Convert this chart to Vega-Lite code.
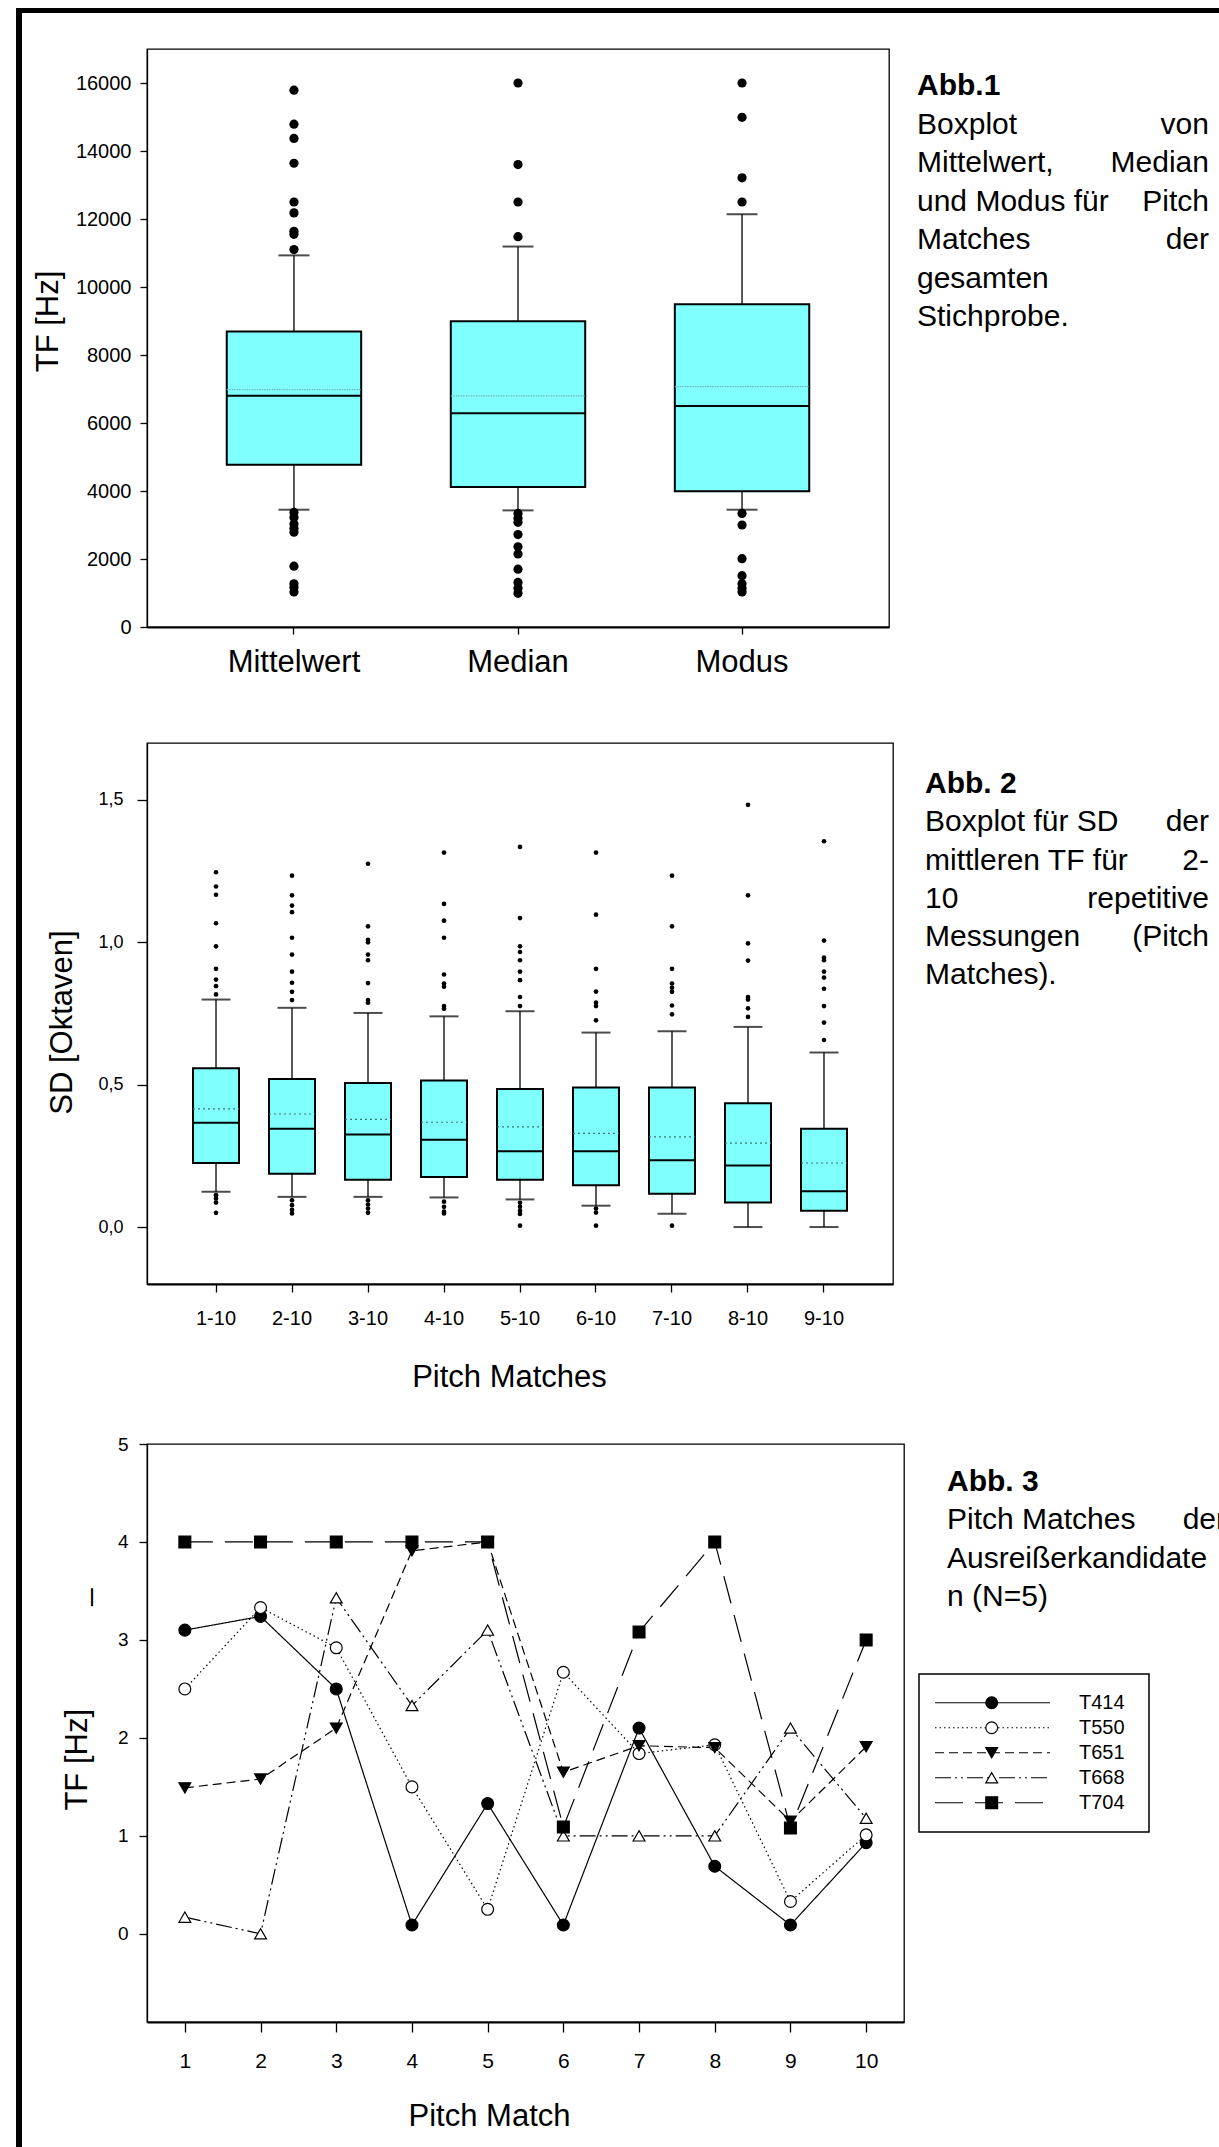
{
"$schema":"https://vega.github.io/schema/vega-lite/v6.json",
"padding":{"left":16,"top":7,"right":0,"bottom":0},
"autosize":{"type":"pad"},
"background":"white",
"config":{"font":"Liberation Sans","view":{"stroke":null},
  "axis":{"domainColor":"black","tickColor":"black","labelColor":"black","titleColor":"black","grid":false,"titleFontWeight":"normal","labelFont":"Liberation Sans","titleFont":"Liberation Sans","labelOverlap":false,"domainWidth":1.3,"tickWidth":1.3}},
"datasets":{
 "p1stats":[
  {"cat":"Mittelwert","lo":3450,"q1":4770,"med":6800,"mean":6980,"q3":8690,"hi":10930},
  {"cat":"Median","lo":3430,"q1":4120,"med":6290,"mean":6800,"q3":8990,"hi":11190},
  {"cat":"Modus","lo":3450,"q1":3990,"med":6500,"mean":7070,"q3":9490,"hi":12140}],
 "p1out":[
  {"cat":"Mittelwert","v":15790},{"cat":"Mittelwert","v":14790},{"cat":"Mittelwert","v":14370},{"cat":"Mittelwert","v":13640},{"cat":"Mittelwert","v":12500},{"cat":"Mittelwert","v":12180},{"cat":"Mittelwert","v":11640},{"cat":"Mittelwert","v":11550},{"cat":"Mittelwert","v":11100},{"cat":"Mittelwert","v":3370},{"cat":"Mittelwert","v":3220},{"cat":"Mittelwert","v":3030},{"cat":"Mittelwert","v":2900},{"cat":"Mittelwert","v":2790},{"cat":"Mittelwert","v":1790},{"cat":"Mittelwert","v":1270},{"cat":"Mittelwert","v":1160},{"cat":"Mittelwert","v":1030},
  {"cat":"Median","v":16000},{"cat":"Median","v":13600},{"cat":"Median","v":12500},{"cat":"Median","v":11480},{"cat":"Median","v":3340},{"cat":"Median","v":3200},{"cat":"Median","v":3080},{"cat":"Median","v":2720},{"cat":"Median","v":2360},{"cat":"Median","v":2150},{"cat":"Median","v":1700},{"cat":"Median","v":1310},{"cat":"Median","v":1140},{"cat":"Median","v":990},
  {"cat":"Modus","v":16000},{"cat":"Modus","v":14990},{"cat":"Modus","v":13210},{"cat":"Modus","v":12500},{"cat":"Modus","v":3340},{"cat":"Modus","v":3000},{"cat":"Modus","v":2010},{"cat":"Modus","v":1510},{"cat":"Modus","v":1270},{"cat":"Modus","v":1140},{"cat":"Modus","v":1030}],
 "p2stats":[
  {"cat":"1-10","lo":0.124,"q1":0.225,"med":0.366,"mean":0.415,"q3":0.558,"hi":0.799},
  {"cat":"2-10","lo":0.106,"q1":0.187,"med":0.345,"mean":0.397,"q3":0.520,"hi":0.770},
  {"cat":"3-10","lo":0.106,"q1":0.166,"med":0.325,"mean":0.378,"q3":0.506,"hi":0.752},
  {"cat":"4-10","lo":0.104,"q1":0.176,"med":0.307,"mean":0.368,"q3":0.515,"hi":0.740},
  {"cat":"5-10","lo":0.097,"q1":0.166,"med":0.266,"mean":0.352,"q3":0.485,"hi":0.758},
  {"cat":"6-10","lo":0.075,"q1":0.147,"med":0.266,"mean":0.329,"q3":0.490,"hi":0.683},
  {"cat":"7-10","lo":0.047,"q1":0.117,"med":0.235,"mean":0.317,"q3":0.490,"hi":0.688},
  {"cat":"8-10","lo":0.0,"q1":0.086,"med":0.216,"mean":0.295,"q3":0.435,"hi":0.703},
  {"cat":"9-10","lo":0.0,"q1":0.057,"med":0.126,"mean":0.225,"q3":0.345,"hi":0.613}],
 "p2out":[
  {"cat":"1-10","v":1.246},{"cat":"1-10","v":1.196},{"cat":"1-10","v":1.167},{"cat":"1-10","v":1.067},{"cat":"1-10","v":0.986},{"cat":"1-10","v":0.907},{"cat":"1-10","v":0.869},{"cat":"1-10","v":0.846},{"cat":"1-10","v":0.817},{"cat":"1-10","v":0.112},{"cat":"1-10","v":0.100},{"cat":"1-10","v":0.086},{"cat":"1-10","v":0.050},
  {"cat":"2-10","v":1.234},{"cat":"2-10","v":1.165},{"cat":"2-10","v":1.129},{"cat":"2-10","v":1.106},{"cat":"2-10","v":1.016},{"cat":"2-10","v":0.957},{"cat":"2-10","v":0.897},{"cat":"2-10","v":0.858},{"cat":"2-10","v":0.826},{"cat":"2-10","v":0.797},{"cat":"2-10","v":0.094},{"cat":"2-10","v":0.077},{"cat":"2-10","v":0.060},{"cat":"2-10","v":0.048},
  {"cat":"3-10","v":1.276},{"cat":"3-10","v":1.056},{"cat":"3-10","v":1.009},{"cat":"3-10","v":1.000},{"cat":"3-10","v":0.957},{"cat":"3-10","v":0.937},{"cat":"3-10","v":0.857},{"cat":"3-10","v":0.797},{"cat":"3-10","v":0.788},{"cat":"3-10","v":0.094},{"cat":"3-10","v":0.079},{"cat":"3-10","v":0.065},{"cat":"3-10","v":0.050},
  {"cat":"4-10","v":1.315},{"cat":"4-10","v":1.135},{"cat":"4-10","v":1.076},{"cat":"4-10","v":1.016},{"cat":"4-10","v":0.887},{"cat":"4-10","v":0.855},{"cat":"4-10","v":0.844},{"cat":"4-10","v":0.776},{"cat":"4-10","v":0.767},{"cat":"4-10","v":0.089},{"cat":"4-10","v":0.071},{"cat":"4-10","v":0.054},{"cat":"4-10","v":0.048},
  {"cat":"5-10","v":1.335},{"cat":"5-10","v":1.085},{"cat":"5-10","v":0.986},{"cat":"5-10","v":0.966},{"cat":"5-10","v":0.937},{"cat":"5-10","v":0.897},{"cat":"5-10","v":0.867},{"cat":"5-10","v":0.808},{"cat":"5-10","v":0.776},{"cat":"5-10","v":0.085},{"cat":"5-10","v":0.071},{"cat":"5-10","v":0.057},{"cat":"5-10","v":0.046},{"cat":"5-10","v":0.005},
  {"cat":"6-10","v":1.315},{"cat":"6-10","v":1.097},{"cat":"6-10","v":0.907},{"cat":"6-10","v":0.827},{"cat":"6-10","v":0.788},{"cat":"6-10","v":0.776},{"cat":"6-10","v":0.726},{"cat":"6-10","v":0.065},{"cat":"6-10","v":0.051},{"cat":"6-10","v":0.005},
  {"cat":"7-10","v":1.234},{"cat":"7-10","v":1.056},{"cat":"7-10","v":0.907},{"cat":"7-10","v":0.855},{"cat":"7-10","v":0.840},{"cat":"7-10","v":0.826},{"cat":"7-10","v":0.778},{"cat":"7-10","v":0.747},{"cat":"7-10","v":0.005},
  {"cat":"8-10","v":1.483},{"cat":"8-10","v":1.165},{"cat":"8-10","v":0.996},{"cat":"8-10","v":0.936},{"cat":"8-10","v":0.808},{"cat":"8-10","v":0.799},{"cat":"8-10","v":0.768},{"cat":"8-10","v":0.738},
  {"cat":"9-10","v":1.355},{"cat":"9-10","v":1.006},{"cat":"9-10","v":0.946},{"cat":"9-10","v":0.937},{"cat":"9-10","v":0.897},{"cat":"9-10","v":0.876},{"cat":"9-10","v":0.837},{"cat":"9-10","v":0.776},{"cat":"9-10","v":0.718},{"cat":"9-10","v":0.657}],
 "p3":[
  {"series":"T414","pm":1,"tf":3.10},{"series":"T414","pm":2,"tf":3.24},{"series":"T414","pm":3,"tf":2.50},{"series":"T414","pm":4,"tf":0.09},{"series":"T414","pm":5,"tf":1.33},{"series":"T414","pm":6,"tf":0.09},{"series":"T414","pm":7,"tf":2.10},{"series":"T414","pm":8,"tf":0.69},{"series":"T414","pm":9,"tf":0.09},{"series":"T414","pm":10,"tf":0.93},
  {"series":"T550","pm":1,"tf":2.50},{"series":"T550","pm":2,"tf":3.33},{"series":"T550","pm":3,"tf":2.92},{"series":"T550","pm":4,"tf":1.50},{"series":"T550","pm":5,"tf":0.25},{"series":"T550","pm":6,"tf":2.67},{"series":"T550","pm":7,"tf":1.84},{"series":"T550","pm":8,"tf":1.93},{"series":"T550","pm":9,"tf":0.33},{"series":"T550","pm":10,"tf":1.01},
  {"series":"T651","pm":1,"tf":1.49},{"series":"T651","pm":2,"tf":1.58},{"series":"T651","pm":3,"tf":2.10},{"series":"T651","pm":4,"tf":3.91},{"series":"T651","pm":5,"tf":4.00},{"series":"T651","pm":6,"tf":1.65},{"series":"T651","pm":7,"tf":1.92},{"series":"T651","pm":8,"tf":1.90},{"series":"T651","pm":9,"tf":1.15},{"series":"T651","pm":10,"tf":1.91},
  {"series":"T668","pm":1,"tf":0.17},{"series":"T668","pm":2,"tf":0.00},{"series":"T668","pm":3,"tf":3.43},{"series":"T668","pm":4,"tf":2.33},{"series":"T668","pm":5,"tf":3.10},{"series":"T668","pm":6,"tf":1.00},{"series":"T668","pm":7,"tf":1.00},{"series":"T668","pm":8,"tf":1.00},{"series":"T668","pm":9,"tf":2.10},{"series":"T668","pm":10,"tf":1.18},
  {"series":"T704","pm":1,"tf":4.00},{"series":"T704","pm":2,"tf":4.00},{"series":"T704","pm":3,"tf":4.00},{"series":"T704","pm":4,"tf":4.00},{"series":"T704","pm":5,"tf":4.00},{"series":"T704","pm":6,"tf":1.09},{"series":"T704","pm":7,"tf":3.08},{"series":"T704","pm":8,"tf":4.00},{"series":"T704","pm":9,"tf":1.08},{"series":"T704","pm":10,"tf":3.00}],
 "leg":[{"series":"T414"},{"series":"T550"},{"series":"T651"},{"series":"T668"},{"series":"T704"}],
 "cap1":[
  {"line":0,"l":"Abb.1","r":""},
  {"line":1,"l":"Boxplot","r":"von"},
  {"line":2,"l":"Mittelwert,","r":"Median"},
  {"line":3,"l":"und Modus für","r":"Pitch"},
  {"line":4,"l":"Matches","r":"der"},
  {"line":5,"l":"gesamten","r":""},
  {"line":6,"l":"Stichprobe.","r":""}],
 "cap2":[
  {"line":0,"l":"Abb. 2","r":""},
  {"line":1,"l":"Boxplot für SD","r":"der"},
  {"line":2,"l":"mittleren TF für","r":"2-"},
  {"line":3,"l":"10","r":"repetitive"},
  {"line":4,"l":"Messungen","r":"(Pitch"},
  {"line":5,"l":"Matches).","r":""}],
 "cap3":[
  {"line":0,"l":"Abb. 3","r":""},
  {"line":1,"l":"Pitch Matches","r":"der"},
  {"line":2,"l":"Ausreißerkandidate","r":""},
  {"line":3,"l":"n (N=5)","r":""}]
},
"columns":4,"spacing":0,"bounds":"flush","align":"each",
"concat":[
 {"width":6,"height":41,"data":{"values":[{}]},"mark":{"type":"point","opacity":0},"view":{"fill":"black","stroke":null}},
 {"width":125,"height":5,"data":{"values":[{}]},"mark":{"type":"point","opacity":0},"view":{"fill":"black","stroke":null}},
 {"width":757,"height":5,"data":{"values":[{}]},"mark":{"type":"point","opacity":0},"view":{"fill":"black","stroke":null}},
 {"width":315,"height":5,"data":{"values":[{}]},"mark":{"type":"point","opacity":0},"view":{"fill":"black","stroke":null}},

 {"width":6,"height":694,"data":{"values":[{}]},"mark":{"type":"point","opacity":0},"view":{"fill":"black","stroke":null}},
 {"width":125,"height":1,"data":{"values":[{}]},"mark":{"type":"point","opacity":0}},
 {"width":742,"height":578,"view":{"stroke":"black","strokeWidth":1.3},
  "layer":[
   {"data":{"name":"p1stats"},"mark":{"type":"rule","color":"black","strokeWidth":1.3},
    "encoding":{
     "x":{"field":"cat","type":"nominal","scale":{"domain":["Mittelwert","Median","Modus"],"paddingInner":0.4,"paddingOuter":0.356},
          "axis":{"title":null,"labelFontSize":31,"tickSize":7,"labelPadding":13,"domainWidth":2,"labelAngle":0}},
     "y":{"field":"lo","type":"quantitative","scale":{"domain":[0,17000],"nice":false,"zero":false},
          "axis":{"title":"TF [Hz]","values":[0,2000,4000,6000,8000,10000,12000,14000,16000],"format":"d","labelFontSize":20,"tickSize":7,"labelPadding":9,"titleFontSize":31,"titleX":-83,"titleY":272,"titleBaseline":"bottom","titleAlign":"center"}},
     "y2":{"field":"hi"}}},
   {"data":{"name":"p1stats"},"mark":{"type":"tick","color":"black","size":31,"thickness":2},
    "encoding":{"x":{"field":"cat","type":"nominal"},"y":{"field":"lo","type":"quantitative"}}},
   {"data":{"name":"p1stats"},"mark":{"type":"tick","color":"black","size":31,"thickness":2},
    "encoding":{"x":{"field":"cat","type":"nominal"},"y":{"field":"hi","type":"quantitative"}}},
   {"data":{"name":"p1stats"},"mark":{"type":"bar","fill":"#80ffff","stroke":"black","strokeWidth":2},
    "encoding":{"x":{"field":"cat","type":"nominal"},"y":{"field":"q1","type":"quantitative"},"y2":{"field":"q3"}}},
   {"data":{"name":"p1stats"},"mark":{"type":"bar","fillOpacity":0,"stroke":"#6fb5b5","strokeWidth":1.3,"strokeDash":[1.5,3.5]},
    "encoding":{"x":{"field":"cat","type":"nominal"},"y":{"field":"mean","type":"quantitative"},"y2":{"field":"mean"}}},
   {"data":{"name":"p1stats"},"mark":{"type":"bar","fillOpacity":0,"stroke":"black","strokeWidth":2},
    "encoding":{"x":{"field":"cat","type":"nominal"},"y":{"field":"med","type":"quantitative"},"y2":{"field":"med"}}},
   {"data":{"name":"p1out"},"mark":{"type":"point","filled":true,"color":"black","size":85,"opacity":1},
    "encoding":{"x":{"field":"cat","type":"nominal"},"y":{"field":"v","type":"quantitative"}}}
  ]},
 {"width":315,"height":578,"data":{"name":"cap1"},
  "layer":[
   {"transform":[{"filter":"datum.line == 0"}],
    "mark":{"type":"text","align":"left","baseline":"alphabetic","fontSize":30,"fontWeight":"bold","color":"black","font":"Liberation Sans"},
    "encoding":{"x":{"datum":0,"type":"quantitative","scale":{"domain":[-0.04452,1.03425],"nice":false,"zero":false},"axis":null},
     "y":{"field":"line","type":"quantitative","scale":{"domain":[-1.1948,13.818],"reverse":true,"nice":false,"zero":false},"axis":null},
     "text":{"field":"l"}}},
   {"transform":[{"filter":"datum.line > 0"}],
    "mark":{"type":"text","align":"left","baseline":"alphabetic","fontSize":30,"color":"black","font":"Liberation Sans"},
    "encoding":{"x":{"datum":0,"type":"quantitative","scale":{"domain":[-0.04452,1.03425],"nice":false,"zero":false},"axis":null},
     "y":{"field":"line","type":"quantitative","scale":{"domain":[-1.1948,13.818],"reverse":true,"nice":false,"zero":false},"axis":null},
     "text":{"field":"l"}}},
   {"transform":[{"filter":"datum.line > 0"}],
    "mark":{"type":"text","align":"right","baseline":"alphabetic","fontSize":30,"color":"black","font":"Liberation Sans"},
    "encoding":{"x":{"datum":1,"type":"quantitative","scale":{"domain":[-0.04452,1.03425],"nice":false,"zero":false},"axis":null},
     "y":{"field":"line","type":"quantitative","scale":{"domain":[-1.1948,13.818],"reverse":true,"nice":false,"zero":false},"axis":null},
     "text":{"field":"r"}}}
  ]},

 {"width":6,"height":701,"data":{"values":[{}]},"mark":{"type":"point","opacity":0},"view":{"fill":"black","stroke":null}},
 {"width":125,"height":1,"data":{"values":[{}]},"mark":{"type":"point","opacity":0}},
 {"width":746,"height":541,"view":{"stroke":"black","strokeWidth":1.3},
  "layer":[
   {"data":{"name":"p2stats"},"mark":{"type":"rule","color":"black","strokeWidth":1.3},
    "encoding":{
     "x":{"field":"cat","type":"nominal","scale":{"domain":["1-10","2-10","3-10","4-10","5-10","6-10","7-10","8-10","9-10"],"paddingInner":0.395,"paddingOuter":0.6055},
          "axis":{"title":"Pitch Matches","labelFontSize":20,"tickSize":8,"labelPadding":16,"domainWidth":2,"labelAngle":0,"titleFontSize":31,"titleX":362,"titleY":78,"titleBaseline":"top","titleAlign":"center"}},
     "y":{"field":"lo","type":"quantitative","scale":{"domain":[-0.2,1.7],"nice":false,"zero":false},
          "axis":{"title":"SD [Oktaven]","values":[0,0.5,1,1.5],"labelExpr":"replace(format(datum.value, '.1f'), '.', ',')","labelFontSize":18,"tickSize":10,"labelPadding":14,"titleFontSize":31,"titleX":-69,"titleY":279,"titleBaseline":"bottom","titleAlign":"center"}},
     "y2":{"field":"hi"}}},
   {"data":{"name":"p2stats"},"mark":{"type":"tick","color":"black","size":29,"thickness":2},
    "encoding":{"x":{"field":"cat","type":"nominal"},"y":{"field":"lo","type":"quantitative"}}},
   {"data":{"name":"p2stats"},"mark":{"type":"tick","color":"black","size":29,"thickness":2},
    "encoding":{"x":{"field":"cat","type":"nominal"},"y":{"field":"hi","type":"quantitative"}}},
   {"data":{"name":"p2stats"},"mark":{"type":"bar","fill":"#80ffff","stroke":"black","strokeWidth":2},
    "encoding":{"x":{"field":"cat","type":"nominal"},"y":{"field":"q1","type":"quantitative"},"y2":{"field":"q3"}}},
   {"data":{"name":"p2stats"},"mark":{"type":"bar","fillOpacity":0,"stroke":"#3f6f6f","strokeWidth":1.2,"strokeDash":[1.5,3.5]},
    "encoding":{"x":{"field":"cat","type":"nominal"},"y":{"field":"mean","type":"quantitative"},"y2":{"field":"mean"}}},
   {"data":{"name":"p2stats"},"mark":{"type":"bar","fillOpacity":0,"stroke":"black","strokeWidth":2},
    "encoding":{"x":{"field":"cat","type":"nominal"},"y":{"field":"med","type":"quantitative"},"y2":{"field":"med"}}},
   {"data":{"name":"p2out"},"mark":{"type":"point","filled":true,"color":"black","size":22,"opacity":1},
    "encoding":{"x":{"field":"cat","type":"nominal"},"y":{"field":"v","type":"quantitative"}}}
  ]},
 {"width":315,"height":541,"data":{"name":"cap2"},
  "layer":[
   {"transform":[{"filter":"datum.line == 0"}],
    "mark":{"type":"text","align":"left","baseline":"alphabetic","fontSize":30,"fontWeight":"bold","color":"black","font":"Liberation Sans"},
    "encoding":{"x":{"datum":0,"type":"quantitative","scale":{"domain":[-0.07394,1.03521],"nice":false,"zero":false},"axis":null},
     "y":{"field":"line","type":"quantitative","scale":{"domain":[-1.3055,12.820],"reverse":true,"nice":false,"zero":false},"axis":null},
     "text":{"field":"l"}}},
   {"transform":[{"filter":"datum.line > 0"}],
    "mark":{"type":"text","align":"left","baseline":"alphabetic","fontSize":30,"color":"black","font":"Liberation Sans"},
    "encoding":{"x":{"datum":0,"type":"quantitative","scale":{"domain":[-0.07394,1.03521],"nice":false,"zero":false},"axis":null},
     "y":{"field":"line","type":"quantitative","scale":{"domain":[-1.3055,12.820],"reverse":true,"nice":false,"zero":false},"axis":null},
     "text":{"field":"l"}}},
   {"transform":[{"filter":"datum.line > 0"}],
    "mark":{"type":"text","align":"right","baseline":"alphabetic","fontSize":30,"color":"black","font":"Liberation Sans"},
    "encoding":{"x":{"datum":1,"type":"quantitative","scale":{"domain":[-0.07394,1.03521],"nice":false,"zero":false},"axis":null},
     "y":{"field":"line","type":"quantitative","scale":{"domain":[-1.3055,12.820],"reverse":true,"nice":false,"zero":false},"axis":null},
     "text":{"field":"r"}}}
  ]},

 {"width":6,"height":704,"data":{"values":[{}]},"mark":{"type":"point","opacity":0},"view":{"fill":"black","stroke":null}},
 {"width":125,"height":1,"data":{"values":[{}]},"mark":{"type":"point","opacity":0}},
 {"width":757,"height":578,"view":{"stroke":"black","strokeWidth":1.3},"data":{"name":"p3"},
  "layer":[
   {"mark":{"type":"line","color":"black","strokeWidth":1.2},
    "encoding":{
     "x":{"field":"pm","type":"quantitative","scale":{"domain":[0.5,10.5],"nice":false,"zero":false},
          "axis":{"title":"Pitch Match","values":[1,2,3,4,5,6,7,8,9,10],"format":"d","labelFontSize":21,"tickSize":10,"labelPadding":18,"domainWidth":2,"titleFontSize":31,"titleX":342,"titleY":79,"titleBaseline":"top","titleAlign":"center"}},
     "y":{"field":"tf","type":"quantitative","scale":{"domain":[-0.9,5],"nice":false,"zero":false},
          "axis":{"title":"TF [Hz]\u00a0\u00a0\u00a0\u00a0\u00a0\u00a0\u00a0\u00a0\u00a0\u00a0\u00a0\u00a0_","values":[0,1,2,3,4,5],"format":"d","labelFontSize":19,"tickSize":8,"labelPadding":11,"titleFontSize":31,"titleX":-54,"titleY":255,"titleBaseline":"bottom","titleAlign":"center"}},
     "strokeDash":{"field":"series","type":"nominal","scale":{"domain":["T414","T550","T651","T668","T704"],"range":[[1,0],[1.5,3],[9,5],[16,4,2,4,2,4],[28,12]]},"legend":null},
     "order":{"field":"pm","type":"quantitative"}}},
   {"mark":{"type":"point","filled":true,"stroke":"black","strokeWidth":1.2,"size":140,"opacity":1},
    "encoding":{
     "x":{"field":"pm","type":"quantitative"},
     "y":{"field":"tf","type":"quantitative"},
     "shape":{"field":"series","type":"nominal","scale":{"domain":["T414","T550","T651","T668","T704"],"range":["circle","circle","triangle-down","triangle-up","square"]},"legend":null},
     "fill":{"field":"series","type":"nominal","scale":{"domain":["T414","T550","T651","T668","T704"],"range":["black","white","black","white","black"]},"legend":null}}}
  ]},
 {"width":315,"height":617.5,
  "layer":[
   {"data":{"values":[{}]},
    "mark":{"type":"rect","fill":"white","stroke":"black","strokeWidth":1.5},
    "encoding":{"x":{"datum":-0.10036,"type":"quantitative","scale":{"domain":[-0.15412,0.97491],"nice":false,"zero":false},"axis":null},
     "x2":{"datum":0.72401},
     "y":{"datum":"top","type":"nominal","scale":{"type":"point","domain":["top","bottom"],"range":[230,388],"padding":0},"axis":null},
     "y2":{"datum":"bottom"}}},
   {"data":{"name":"cap3"},"transform":[{"filter":"datum.line == 0"}],
    "mark":{"type":"text","align":"left","baseline":"alphabetic","fontSize":30,"fontWeight":"bold","color":"black","font":"Liberation Sans"},
    "encoding":{"x":{"datum":0,"type":"quantitative","scale":{"domain":[-0.15412,0.97491],"nice":false,"zero":false},"axis":null},
     "y":{"field":"line","type":"quantitative","scale":{"domain":[-1.2272,14.896],"reverse":true,"nice":false,"zero":false},"axis":null},
     "text":{"field":"l"}}},
   {"data":{"name":"cap3"},"transform":[{"filter":"datum.line > 0"}],
    "mark":{"type":"text","align":"left","baseline":"alphabetic","fontSize":30,"color":"black","font":"Liberation Sans"},
    "encoding":{"x":{"datum":0,"type":"quantitative","scale":{"domain":[-0.15412,0.97491],"nice":false,"zero":false},"axis":null},
     "y":{"field":"line","type":"quantitative","scale":{"domain":[-1.2272,14.896],"reverse":true,"nice":false,"zero":false},"axis":null},
     "text":{"field":"l"}}},
   {"data":{"name":"cap3"},"transform":[{"filter":"datum.line > 0"}],
    "mark":{"type":"text","align":"right","baseline":"alphabetic","fontSize":30,"color":"black","font":"Liberation Sans"},
    "encoding":{"x":{"datum":1,"type":"quantitative","scale":{"domain":[-0.15412,0.97491],"nice":false,"zero":false},"axis":null},
     "y":{"field":"line","type":"quantitative","scale":{"domain":[-1.2272,14.896],"reverse":true,"nice":false,"zero":false},"axis":null},
     "text":{"field":"r"}}},
   {"data":{"name":"leg"},
    "mark":{"type":"rule","color":"black","strokeWidth":1.2},
    "encoding":{"x":{"datum":-0.04301,"type":"quantitative","scale":{"domain":[-0.15412,0.97491],"nice":false,"zero":false},"axis":null},"x2":{"datum":0.36918},
     "y":{"field":"series","type":"nominal","scale":{"type":"point","domain":["T414","T550","T651","T668","T704"],"range":[258.75,358.75],"padding":0},"axis":null},
     "strokeDash":{"field":"series","type":"nominal","scale":{"domain":["T414","T550","T651","T668","T704"],"range":[[1,0],[1.5,3],[9,5],[16,4,2,4,2,4],[28,12]]},"legend":null}}},
   {"data":{"name":"leg"},
    "mark":{"type":"point","filled":true,"stroke":"black","strokeWidth":1.2,"size":140,"opacity":1},
    "encoding":{"x":{"datum":0.16022,"type":"quantitative","scale":{"domain":[-0.15412,0.97491],"nice":false,"zero":false},"axis":null},
     "y":{"field":"series","type":"nominal","scale":{"type":"point","domain":["T414","T550","T651","T668","T704"],"range":[258.75,358.75],"padding":0},"axis":null},
     "shape":{"field":"series","type":"nominal","scale":{"domain":["T414","T550","T651","T668","T704"],"range":["circle","circle","triangle-down","triangle-up","square"]},"legend":null},
     "fill":{"field":"series","type":"nominal","scale":{"domain":["T414","T550","T651","T668","T704"],"range":["black","white","black","white","black"]},"legend":null}}},
   {"data":{"name":"leg"},
    "mark":{"type":"text","align":"left","baseline":"middle","fontSize":20,"color":"black","font":"Liberation Sans"},
    "encoding":{"x":{"datum":0.47312,"type":"quantitative","scale":{"domain":[-0.15412,0.97491],"nice":false,"zero":false},"axis":null},
     "y":{"field":"series","type":"nominal","scale":{"type":"point","domain":["T414","T550","T651","T668","T704"],"range":[258.75,358.75],"padding":0},"axis":null},
     "text":{"field":"series"}}}
  ],
  "resolve":{"scale":{"y":"independent"}}}
]
}
